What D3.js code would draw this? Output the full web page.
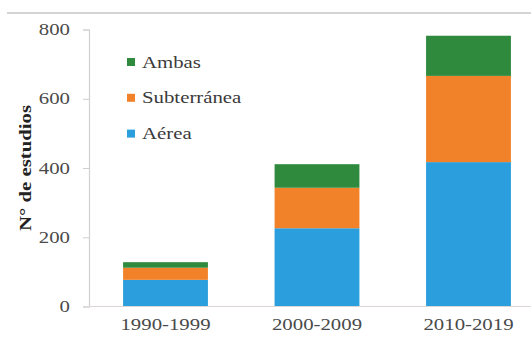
<!DOCTYPE html>
<html>
<head>
<meta charset="utf-8">
<script src="https://cdn.jsdelivr.net/npm/d3@7"></script>
<style>
  html, body { margin: 0; padding: 0; background: #fff; }
  svg { display: block; }
  svg text { font-family: 'Liberation Serif', 'Times New Roman', 'DejaVu Serif', serif !important; }
</style>
</head>
<body>
<svg id="chart" width="531" height="342"></svg>
<script>
const categories = ["1990-1999", "2000-2009", "2010-2019"];
const aerea = [77, 226, 417];
const subterranea = [35, 117, 249];
const ambas = [16, 68, 116];
const seriesNames = ["Aérea", "Subterránea", "Ambas"];
const legendOrder = ["Ambas", "Subterránea", "Aérea"];
const yTicks = [0, 200, 400, 600, 800];
const yTitle = "N° de estudios";

const colors = { "Aérea": "#2b9fde", "Subterránea": "#f28229", "Ambas": "#2f8a3d" };
const W = 531, H = 342;
const margin = { left: 89, top: 29.5, bottom: 306.5 };
const stretch = 1.3;
const serif = "'Liberation Serif', 'Times New Roman', serif";

const svg = d3.select("#chart");

function widen(sel) {
  sel.style("font-family", serif);
  sel.each(function () {
    const len = this.getComputedTextLength();
    d3.select(this).attr("textLength", len * stretch).attr("lengthAdjust", "spacingAndGlyphs");
  });
}

// top frame line
svg.append("line").attr("x1", 7).attr("x2", W).attr("y1", 13).attr("y2", 13)
  .attr("stroke", "#d4d4d4").attr("stroke-width", 2);

const data = categories.map((c, i) => ({ cat: c, "Aérea": aerea[i], "Subterránea": subterranea[i], "Ambas": ambas[i] }));
const stack = d3.stack().keys(seriesNames)(data);

const x = d3.scaleBand().domain(categories).range([89.75, 544.25]).paddingInner(0.44).paddingOuter(0.22);
const y = d3.scaleLinear().domain([0, 800]).range([margin.bottom, margin.top]);

// bars
svg.append("g").selectAll("g").data(stack).join("g")
  .attr("fill", d => colors[d.key])
  .selectAll("rect").data(d => d).join("rect")
  .attr("x", d => x(d.data.cat))
  .attr("width", x.bandwidth())
  .attr("y", d => y(d[1]))
  .attr("height", d => y(d[0]) - y(d[1]));

// y axis
const yAxis = svg.append("g").attr("transform", `translate(${margin.left},0)`)
  .call(d3.axisLeft(y).tickValues(yTicks).tickSize(6).tickPadding(13).tickFormat(d3.format("d")));
yAxis.attr("font-family", null);
yAxis.select(".domain").attr("stroke", "#d0d0d0").attr("stroke-width", 1.2);
yAxis.selectAll(".tick line").attr("stroke", "#d0d0d0");
yAxis.selectAll(".tick text").attr("font-size", 16).attr("fill", "#4a4a4a").call(widen);

// x axis
const xAxis = svg.append("g").attr("transform", `translate(0,${margin.bottom})`)
  .call(d3.axisBottom(x).tickSize(0).tickPadding(12));
xAxis.attr("font-family", null);
xAxis.select(".domain").attr("stroke", "#dcd6d6").attr("stroke-width", 1.2)
  .attr("d", `M${margin.left},0H${W}`);
xAxis.selectAll(".tick text").attr("font-size", 16).attr("fill", "#4a4a4a").call(widen);

// y title
svg.append("text")
  .attr("transform", `translate(31,${(margin.top + margin.bottom) / 2}) rotate(-90)`)
  .attr("text-anchor", "middle")
  .attr("font-size", 16).attr("font-weight", "bold").attr("fill", "#222")
  .text(yTitle).call(widen);

// legend
const legend = svg.append("g").attr("transform", "translate(127,62)");
const li = legend.selectAll("g").data(legendOrder).join("g")
  .attr("transform", (d, i) => `translate(0,${i * 35.8})`);
li.append("rect").attr("x", 0).attr("y", -4).attr("width", 8).attr("height", 8)
  .attr("fill", d => colors[d]);
li.append("text").attr("x", 15).attr("y", 5.5).attr("font-size", 16).attr("fill", "#3a3a3a")
  .text(d => d).call(widen);
</script>
</body>
</html>
